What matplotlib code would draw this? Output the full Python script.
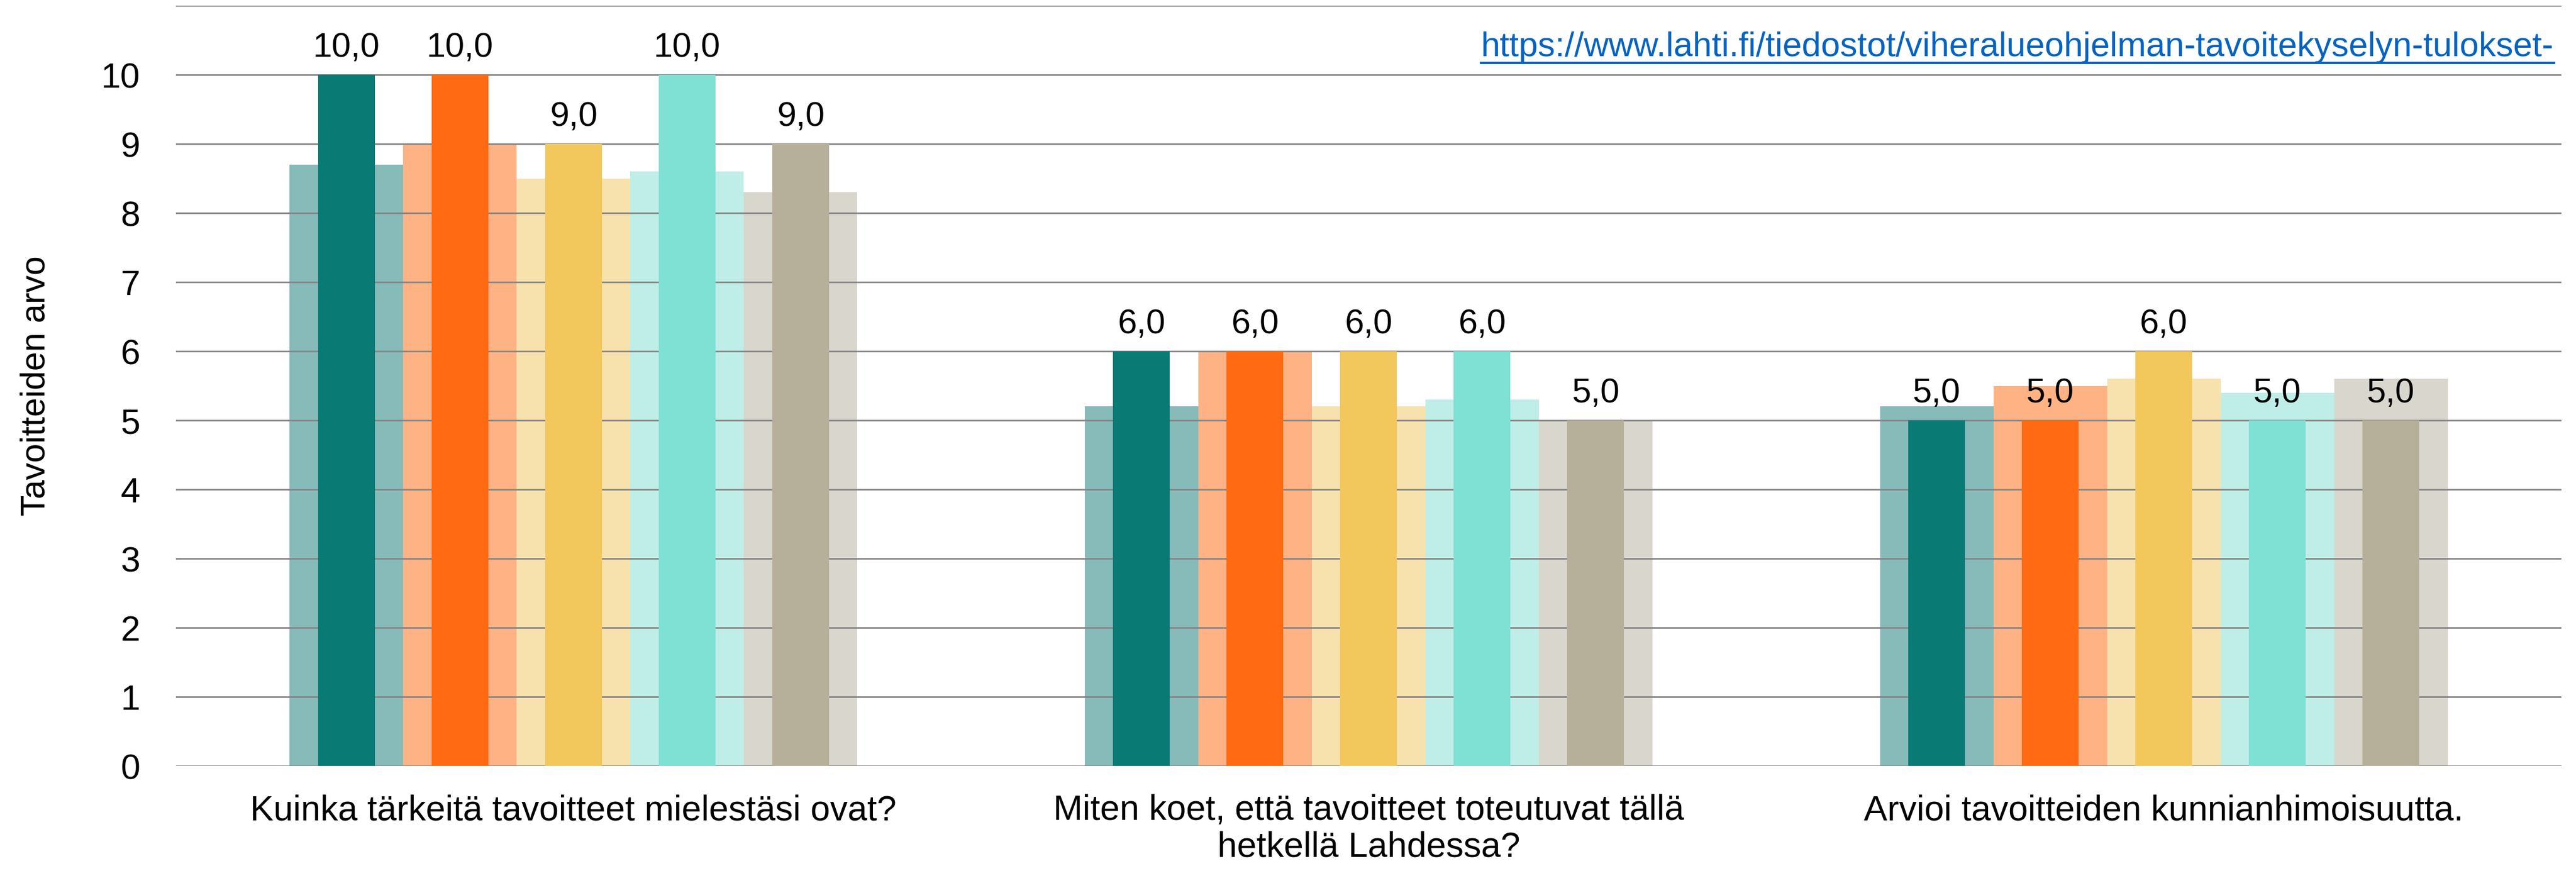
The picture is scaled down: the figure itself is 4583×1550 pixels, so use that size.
import numpy as np
import matplotlib
matplotlib.use('Agg')
import matplotlib.pyplot as plt
from matplotlib.lines import Line2D

plt.rcParams['font.family'] = ['Liberation Sans', 'DejaVu Sans']

categories = ['Kuinka tärkeitä tavoitteet mielestäsi ovat?',
              'Miten koet, että tavoitteet toteutuvat tällä\nhetkellä Lahdessa?',
              'Arvioi tavoitteiden kunnianhimoisuutta.']
# wide light bars (average) per series, one value per category
mean_teal = [8.7, 5.2, 5.2]
mean_orange = [9.0, 6.0, 5.5]
mean_yellow = [8.5, 5.2, 5.6]
mean_mint = [8.6, 5.3, 5.4]
mean_grey = [8.3, 5.0, 5.6]
# narrow dark bars (labelled) per series
med_teal = [10, 6, 5]
med_orange = [10, 6, 5]
med_yellow = [9, 6, 6]
med_mint = [10, 6, 5]
med_grey = [9, 5, 5]
yticks = list(range(0, 11))
url = 'https://www.lahti.fi/tiedostot/viheralueohjelman-tavoitekyselyn-tulokset-'

means = [mean_teal, mean_orange, mean_yellow, mean_mint, mean_grey]
meds = [med_teal, med_orange, med_yellow, med_mint, med_grey]
light_cols = ['#86BBBA', '#FFB385', '#F7E2AE', '#BFEEE8', '#D9D6CD']
dark_cols = ['#0A7A75', '#FF6A13', '#F2C75C', '#7FE0D4', '#B6AF9A']

fig = plt.figure(figsize=(45.83, 15.5), dpi=100)
ax = fig.add_axes([0.0683, 0.1206, 0.926, 0.8729])

x = np.arange(len(categories))
w = 0.1428
for i in range(5):
    pos = x + (i - 2) * w
    ax.bar(pos, means[i], width=w, color=light_cols[i], zorder=1)
    bars = ax.bar(pos, meds[i], width=w / 2, color=dark_cols[i], zorder=3)
    for b, v in zip(bars, meds[i]):
        ax.annotate(f'{v:.1f}'.replace('.', ','), (b.get_x() + b.get_width() / 2, v),
                    xytext=(0, 14), textcoords='offset points',
                    ha='center', va='bottom', fontsize=44, zorder=4)

ax.set_ylim(0, 11)
ax.set_xlim(-0.5, 2.5)
ax.set_yticks(yticks)
ax.set_yticks([11], minor=True)
ax.grid(axis='y', which='both', color='#858585', linewidth=2, zorder=2)
ax.set_axisbelow(False)
for s in ax.spines.values():
    s.set_visible(False)
ax.tick_params(axis='y', which='both', length=0, labelsize=45, pad=46)
ax.set_xticks(x)
ax.set_xticklabels(categories, fontsize=45, linespacing=1.15)
ax.tick_params(axis='x', length=0, pad=36)
ax.set_ylabel('Tavoitteiden arvo', fontsize=44)
ax.yaxis.set_label_coords(-0.052, 0.5)

t = fig.text(2635 / 4583, 1 - 100 / 1550, url, fontsize=44, color='#0563C1',
             ha='left', va='baseline')
fig.canvas.draw()
bb = t.get_window_extent(fig.canvas.get_renderer())
W, H = fig.bbox.width, fig.bbox.height
uy = 1 - 112 / 1550
fig.add_artist(Line2D([bb.x0 / W, min(bb.x1 / W, 1.0)], [uy, uy], color='#0563C1', linewidth=3))

fig.savefig('out.png', dpi=100)
